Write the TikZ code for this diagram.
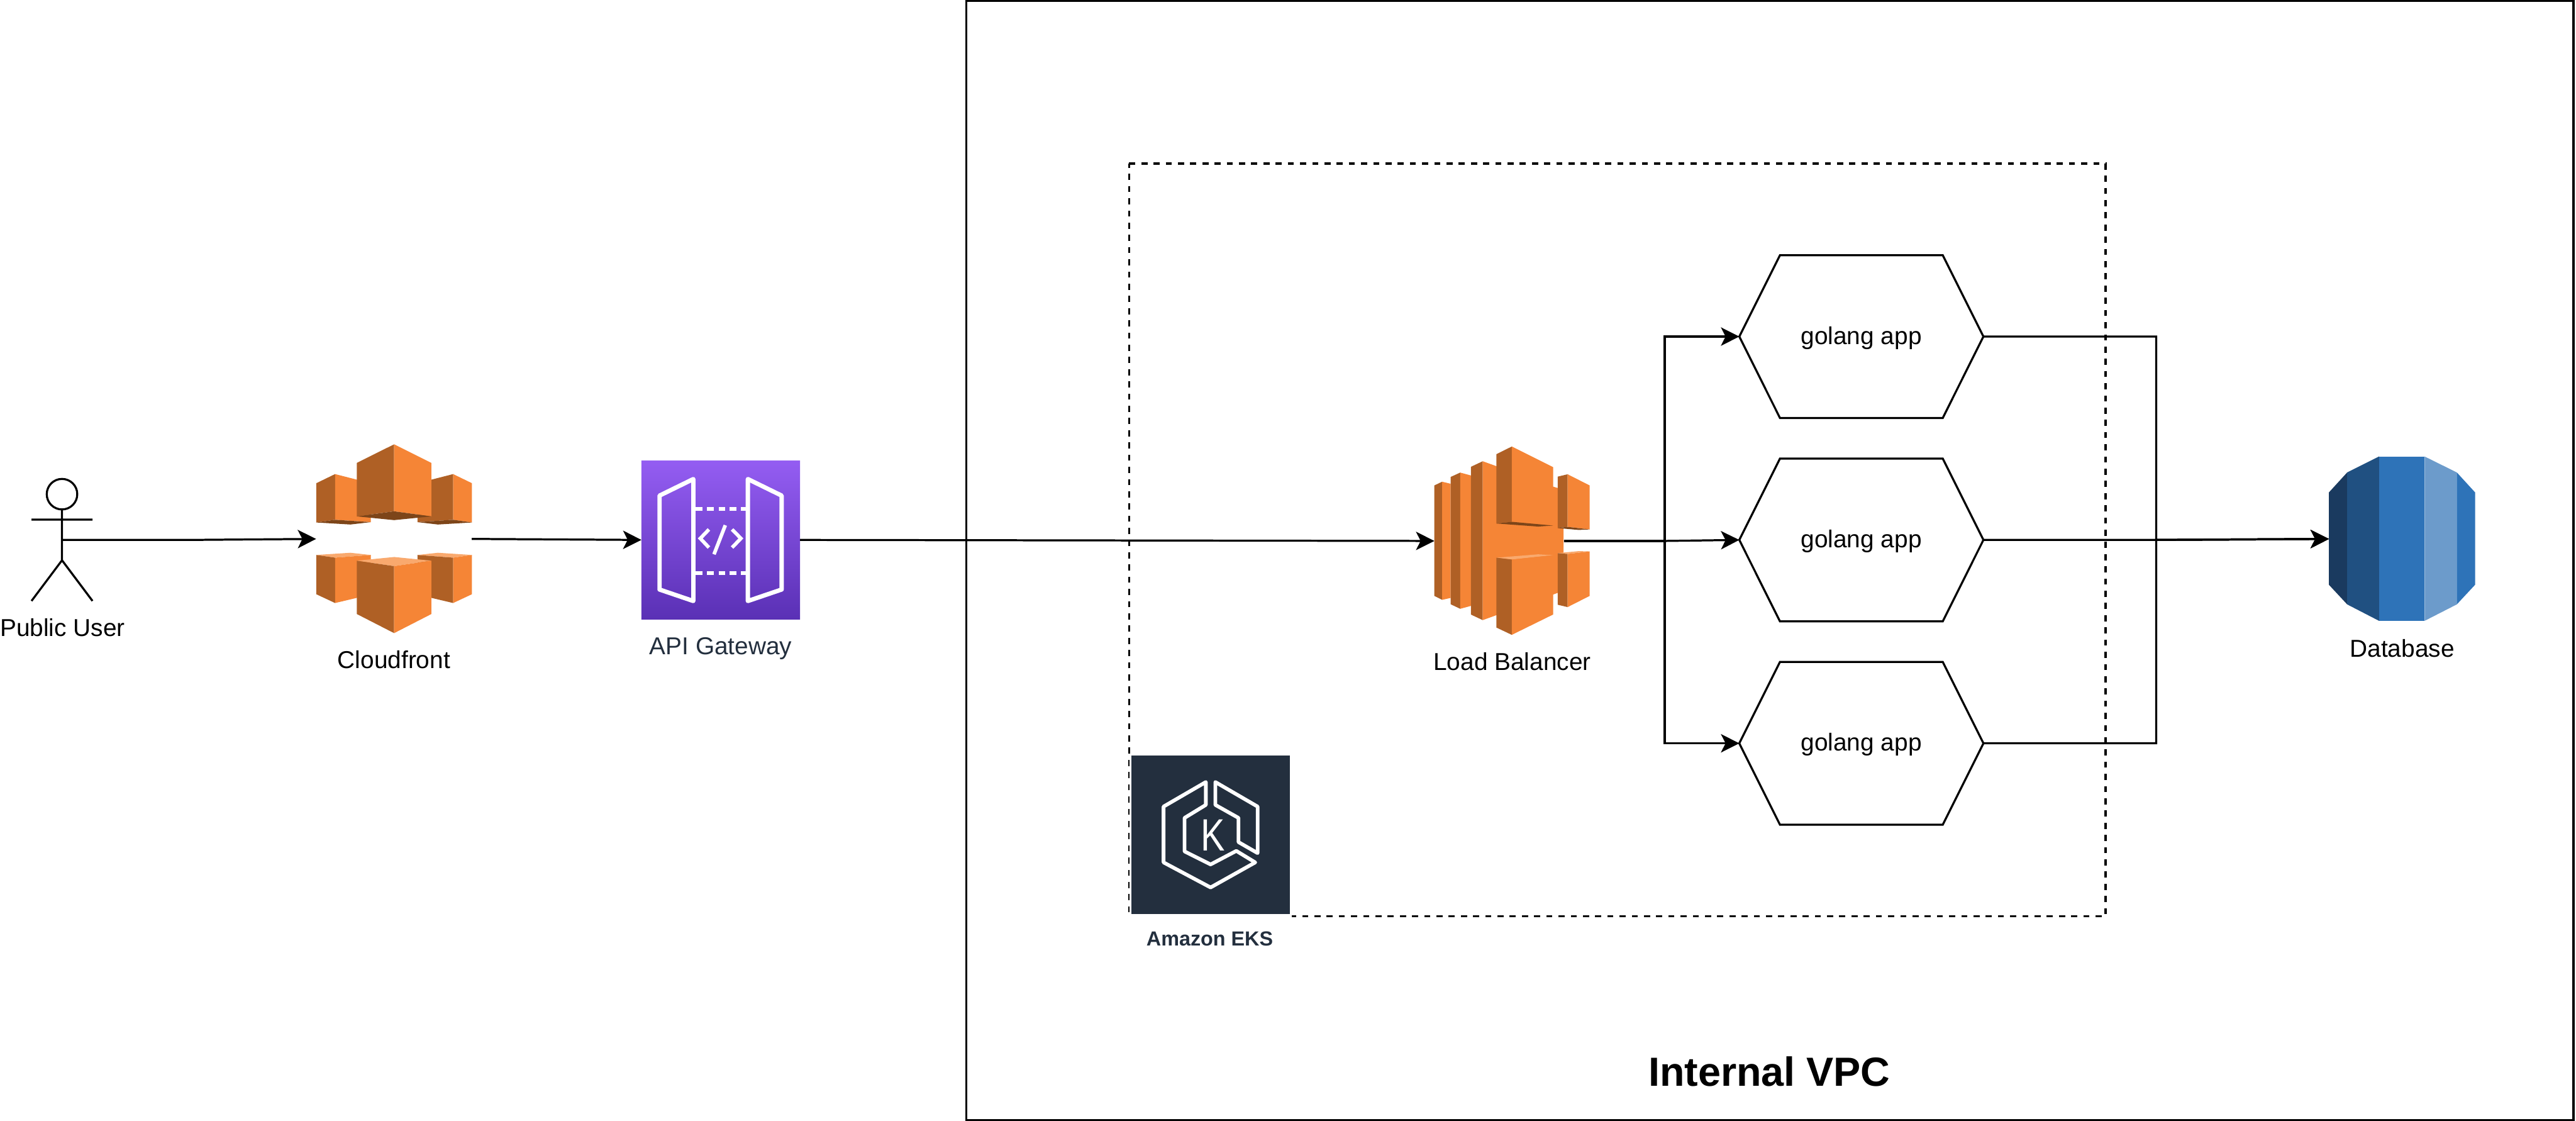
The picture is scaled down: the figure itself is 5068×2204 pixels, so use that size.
\documentclass[tikz,border=0pt]{standalone}
\usepackage{fontspec}
\setmainfont{Liberation Sans}
\usetikzlibrary{arrows.meta,calc,shapes.geometric}
\definecolor{awsL}{HTML}{F58536}
\definecolor{awsD}{HTML}{AF6025}
\definecolor{awsS}{HTML}{7D4519}
\definecolor{awsT}{HTML}{F9A96E}
\definecolor{ink}{HTML}{232F3E}
\definecolor{dbA}{HTML}{1A3A5F}
\definecolor{dbB}{HTML}{205081}
\definecolor{dbC}{HTML}{2E73B8}
\definecolor{dbD}{HTML}{6C9BCB}
\definecolor{apiTop}{HTML}{945DF2}
\definecolor{apiBot}{HTML}{5A30B5}
\tikzset{
  every node/.style={inner sep=0pt,outer sep=0pt},
  ln/.style={line width=0.04cm,draw=black,line join=miter},
  flow/.style={ln,-{Stealth[length=0.36cm,width=0.36cm,inset=0.09cm]}},
  txt/.style={anchor=base,font=\fontsize{13.66}{16}\selectfont},
  hexnode/.style={minimum width=4.8cm,minimum height=3.2cm,text height=10pt,text depth=1.5pt,font=\fontsize{13.66}{16}\selectfont},
  iconbox/.style={minimum width=3.12cm,minimum height=3.12cm},
  wline/.style={draw=white,line join=round,line cap=round},
  z3/.style={x=0.003333cm,y=-0.003333cm}
}
\newcommand{\hexapp}[2]{%
  \node[hexnode] (#1) at (3662,#2) {golang app};
  \draw[ln] (#1.west) -- ($(#1.north west)+(80,0)$) -- ($(#1.north east)+(-80,0)$) -- (#1.east)
     -- ($(#1.south east)+(-80,0)$) -- ($(#1.south west)+(80,0)$) -- cycle;
}
\begin{document}
\begin{tikzpicture}[x=0.01cm,y=-0.01cm]
\useasboundingbox (0,0) rectangle (5068,2204);
% containers
\node[ln,draw,minimum width=31.6cm,minimum height=22cm] (vpc) at (3482,1102) {};
\node[minimum width=19.2cm,minimum height=14.8cm] (eksgroup) at (3182,1062) {};
\draw[ln,dash pattern=on 0.12cm off 0.12cm] (eksgroup.north west) -- (eksgroup.north east) -- (eksgroup.south east) -- (eksgroup.south west) -- cycle;
\node[anchor=base,font=\bfseries\fontsize{22.76}{26}\selectfont] (vpclabel) at (3481,2136) {Internal VPC};

% named anchors
\node[minimum width=3.06cm,minimum height=3.72cm] (cf) at (775,1060) {};
\node[minimum width=3.06cm,minimum height=3.71cm] (lb) at (2975,1064) {};
\node[minimum width=2.88cm,minimum height=3.24cm] (db) at (4726,1060) {};
\coordinate (lbout) at (3077,1064);
\coordinate (trunkL) at (3275,1064);
\coordinate (trunkR) at (4242,1062);
\coordinate (actorbody) at (122,1062);
\coordinate (actorbend) at (372,1062);

% actor
\node[ln,draw,circle,minimum size=0.6cm] (head) at (122,972) {};
\coordinate (hip) at (122,1102);
\coordinate (armL) at (62,1022);
\coordinate (armR) at (182,1022);
\coordinate (legL) at (62,1182);
\coordinate (legR) at (182,1182);
\draw[ln] (head.south) -- (hip) (armL) -- (armR) (legL) -- (hip) -- (legR);
\node[txt] (userlabel) at (123,1251) {Public User};

% API gateway
\node[iconbox,shade,top color=apiTop,bottom color=apiBot] (api) at (1418,1062) {};
\begin{scope}[shift={(1220,860)},z3]
  \draw[wline,line width=0.085cm] (233,345) -- (433,247) -- (433,968) -- (233,900) -- cycle;
  \draw[wline,line width=0.085cm] (755,247) -- (955,345) -- (955,900) -- (755,968) -- cycle;
  \foreach \yy in {424,802}{
    \foreach \xa/\xb in {446/488,514/554,582/620,648/688,714/742}{
      \draw[draw=white,line width=0.07cm] (\xa,\yy) -- (\xb,\yy);
    }
  }
  \draw[draw=white,line width=0.07cm,line join=miter] (525,545) -- (474,598) -- (525,652);
  \draw[draw=white,line width=0.07cm,line join=miter] (662,545) -- (714,598) -- (662,652);
  \draw[draw=white,line width=0.07cm] (622,520) -- (555,692);
\end{scope}
\node[txt,text=ink] (apilabel) at (1418,1288) {API Gateway};

% EKS
\fill[white] (2222,1482) rectangle (2542,1806);
\node[iconbox,fill=ink] (eks) at (2382,1642) {};
\begin{scope}[shift={(2180,1450)},z3]
  \draw[wline,line width=0.072cm] (578,265) -- (578,400) -- (452,477) -- (452,675) -- (606,752) -- (758,672) -- (870,740) -- (606,888) -- (328,740) -- (328,410) -- cycle;
  \draw[wline,line width=0.072cm] (634,265) -- (884,410) -- (884,685) -- (771,620) -- (771,477) -- (634,400) -- cycle;
\end{scope}
\node[anchor=base,text=white,font=\fontsize{25.3}{28}\selectfont] (eksk) at (2386,1674) {\scalebox{0.8}[1]{K}};
\node[anchor=base,text=ink,font=\bfseries\fontsize{11.38}{14}\selectfont] (ekslabel) at (2380,1860) {Amazon EKS};

% connectors
\draw[flow] (actorbody) -- (actorbend) -- (cf.west);
\draw[flow] (cf.east) -- (api.west);
\draw[flow] (api.east) -- (lb.west);

% apps
\hexapp{appA}{662}
\hexapp{appB}{1062}
\hexapp{appC}{1462}
\draw[flow] (lbout) -- (trunkL) |- (appA.west);
\draw[flow] (lbout) -- (trunkL) -- (appB.west);
\draw[flow] (lbout) -- (trunkL) |- (appC.west);
\draw[flow] (appA.east) -| (trunkR) -- (db.west);
\draw[flow] (appB.east) -- (trunkR) -- (db.west);
\draw[flow] (appC.east) -| (trunkR) -- (db.west);

% Cloudfront icon
\begin{scope}[shift={(0,820)},x=0.006378cm,y=-0.003333cm]
  % top half small left
  \fill[awsD] (975,392) -- (1033,338) -- (1033,608) -- (975,624) -- cycle;
  \fill[awsL] (1033,338) -- (1143,392) -- (1143,622) -- (1033,608) -- cycle;
  \fill[awsS] (975,624) -- (1033,608) -- (1143,622) -- (1080,636) -- cycle;
  % top half small right
  \fill[awsD] (1287,392) -- (1397,338) -- (1397,608) -- (1287,622) -- cycle;
  \fill[awsL] (1397,338) -- (1455,392) -- (1455,624) -- (1397,608) -- cycle;
  \fill[awsS] (1287,622) -- (1397,608) -- (1455,624) -- (1350,636) -- cycle;
  % top centre
  \fill[awsD] (1100,272) -- (1215,162) -- (1215,558) -- (1100,588) -- cycle;
  \fill[awsL] (1215,162) -- (1330,272) -- (1330,588) -- (1215,558) -- cycle;
  \fill[awsS] (1100,588) -- (1215,558) -- (1330,588) -- (1215,610) -- cycle;
  % bottom small left
  \fill[awsT] (975,816) -- (1080,803) -- (1143,816) -- (1033,832) -- cycle;
  \fill[awsD] (975,816) -- (1033,832) -- (1033,1100) -- (975,1048) -- cycle;
  \fill[awsL] (1033,832) -- (1143,816) -- (1143,1050) -- (1033,1100) -- cycle;
  % bottom small right
  \fill[awsT] (1287,816) -- (1350,803) -- (1455,816) -- (1397,832) -- cycle;
  \fill[awsD] (1287,816) -- (1397,832) -- (1397,1100) -- (1287,1050) -- cycle;
  \fill[awsL] (1397,832) -- (1455,816) -- (1455,1048) -- (1397,1100) -- cycle;
  % bottom centre
  \fill[awsT] (1100,850) -- (1215,828) -- (1330,850) -- (1215,882) -- cycle;
  \fill[awsD] (1100,850) -- (1215,882) -- (1215,1278) -- (1100,1165) -- cycle;
  \fill[awsL] (1215,882) -- (1330,850) -- (1330,1165) -- (1215,1278) -- cycle;
\end{scope}
\node[txt] (cflabel) at (775,1315) {Cloudfront};

% Load balancer icon
\begin{scope}[shift={(2760,840)},z3]
  \fill[awsD] (186,345) -- (232,323) -- (232,1021) -- (186,998) -- cycle;
  \fill[awsL] (232,323) -- (282,335) -- (282,1010) -- (232,1021) -- cycle;
  \fill[awsD] (282,295) -- (339,269) -- (339,1074) -- (282,1047) -- cycle;
  \fill[awsL] (339,269) -- (402,286) -- (402,1057) -- (339,1074) -- cycle;
  \fill[awsD] (402,235) -- (472,202) -- (472,1141) -- (402,1108) -- cycle;
  \fill[awsL] (472,202) -- (888,352) -- (915,360) -- (915,590) -- (950,600) -- (950,745) -- (915,745) -- (915,980) -- (888,990) -- (472,1141) -- cycle;
  % upper block
  \fill[awsD] (553,160) -- (644,115) -- (644,560) -- (553,570) -- cycle;
  \fill[awsL] (644,115) -- (888,237) -- (888,582) -- (644,560) -- cycle;
  \fill[awsS] (553,570) -- (644,560) -- (888,582) -- (800,588) -- cycle;
  % lower block
  \fill[awsT] (553,772) -- (800,752) -- (888,757) -- (644,783) -- cycle;
  \fill[awsD] (553,772) -- (644,783) -- (644,1228) -- (553,1185) -- cycle;
  \fill[awsL] (644,783) -- (888,757) -- (888,1108) -- (644,1228) -- cycle;
  % right upper
  \fill[awsD] (915,293) -- (974,279) -- (974,590) -- (915,597) -- cycle;
  \fill[awsL] (974,279) -- (1104,345) -- (1104,605) -- (974,590) -- cycle;
  \fill[awsS] (915,597) -- (974,590) -- (1104,605) -- (1040,608) -- cycle;
  % right lower
  \fill[awsT] (915,745) -- (1040,733) -- (1104,735) -- (974,750) -- cycle;
  \fill[awsD] (915,745) -- (974,750) -- (974,1064) -- (915,1050) -- cycle;
  \fill[awsL] (974,750) -- (1104,735) -- (1104,998) -- (974,1064) -- cycle;
\end{scope}
\node[txt] (lblabel) at (2975,1318) {Load Balancer};

% Database icon
\begin{scope}[shift={(4500,860)},z3]
  \fill[dbA] (246,326) -- (354,208) -- (354,988) -- (246,872) -- cycle;
  \fill[dbB] (354,208) -- (542,114) -- (542,1085) -- (354,988) -- cycle;
  \fill[dbC] (542,114) -- (812,114) -- (812,1085) -- (542,1085) -- cycle;
  \fill[dbD] (812,114) -- (1002,208) -- (1002,988) -- (812,1085) -- cycle;
  \fill[dbC] (1002,208) -- (1110,326) -- (1110,872) -- (1002,988) -- cycle;
\end{scope}
\node[txt] (dblabel) at (4726,1292) {Database};
\end{tikzpicture}
\end{document}
